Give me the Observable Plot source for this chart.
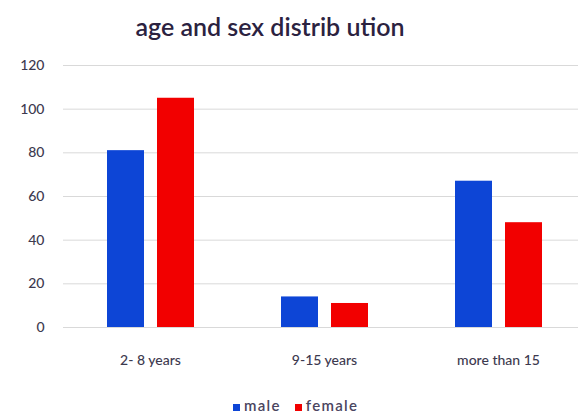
<!DOCTYPE html>
<html>
<head>
<meta charset="utf-8">
<script src="https://cdn.jsdelivr.net/npm/d3@7"></script>
<script src="https://cdn.jsdelivr.net/npm/@observablehq/plot@0.6"></script>
<style>
  html, body { margin: 0; padding: 0; background: #fff; overflow: hidden; }
  #wrap { position: relative; width: 578px; height: 415px; font-family: Lato, "Open Sans", sans-serif; }
  #title { position: absolute; top: 11px; left: 0; width: 540px; text-align: center; font-size: 25px; line-height: 30px; color: #2b2240; font-weight: 600; }
  #chart { position: absolute; top: 45px; left: 0; }
  #legend { position: absolute; top: 396px; left: 233px; font-size: 15px; font-weight: 600; letter-spacing: 1.3px; color: #4a4560; white-space: nowrap; }
  #legend span.sw { display: inline-block; width: 7px; height: 7px; margin-right: 4px; vertical-align: 0px; }
  #legend span.item { margin-right: 14px; }
</style>
</head>
<body>
<div id="wrap">
  <div id="title">age and sex distrib ution</div>
  <div id="chart"></div>
  <div id="legend"></div>
</div>
<script>
const categories = ["2- 8 years", "9-15 years", "more than 15"];
const sexes = ["male", "female"];
const male = [81, 14, 67];
const female = [105, 11, 48];
const yTicks = [0, 20, 40, 60, 80, 100, 120];
const colors = ["#0d45d6", "#f20000"];

const data = categories.flatMap((c, i) => [
  {category: c, sex: "male", value: male[i]},
  {category: c, sex: "female", value: female[i]}
]);

const chart = Plot.plot({
  width: 578,
  height: 340,
  marginTop: 20,
  marginBottom: 58,
  marginLeft: 63,
  marginRight: -7,
  style: {fontFamily: "Lato, 'Open Sans', sans-serif", fontSize: "14px", fontWeight: 500, color: "#3d3a4f", background: "transparent", overflow: "visible"},
  facet: {data, x: "category"},
  fx: {domain: categories, padding: 0, label: null, tickSize: 0, tickPadding: 28, axis: "bottom"},
  x: {domain: sexes, paddingInner: 0.26, paddingOuter: 0.84, axis: null},
  y: {domain: [0, 120], ticks: yTicks, tickSize: 0, tickPadding: 19, label: null},
  color: {domain: sexes, range: colors},
  marks: [
    Plot.ruleY(yTicks, {stroke: "#d9d9d9", strokeWidth: 1}),
    Plot.barY(data, {x: "sex", y: "value", fill: "sex"})
  ]
});
document.getElementById("chart").appendChild(chart);

const legend = document.getElementById("legend");
sexes.forEach((s, i) => {
  const item = document.createElement("span");
  item.className = "item";
  const sw = document.createElement("span");
  sw.className = "sw";
  sw.style.background = colors[i];
  item.appendChild(sw);
  item.appendChild(document.createTextNode(s));
  legend.appendChild(item);
});
</script>
</body>
</html>
